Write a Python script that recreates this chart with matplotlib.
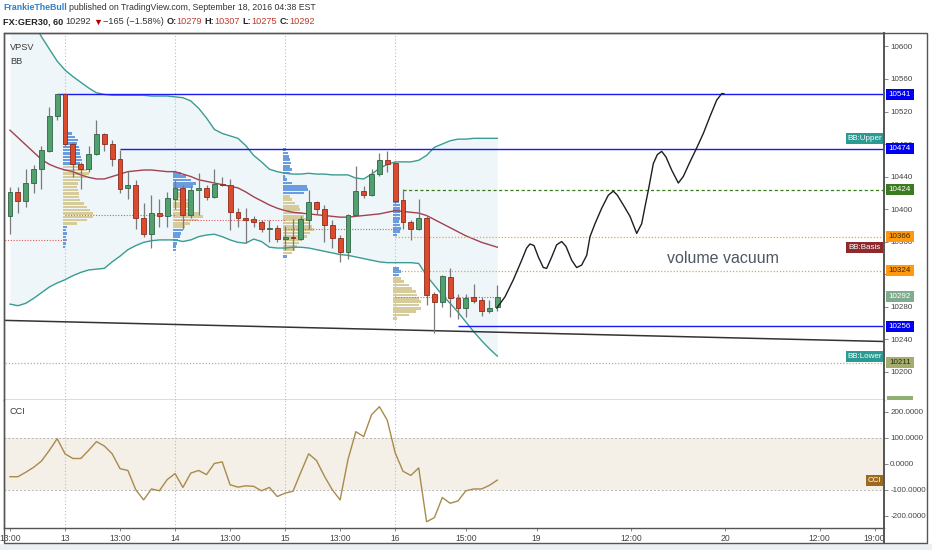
import numpy as np
import matplotlib
matplotlib.use("Agg")
import matplotlib.pyplot as plt
from matplotlib.patches import Rectangle
from matplotlib.lines import Line2D

plt.rcParams['font.family'] = ['Liberation Sans', 'DejaVu Sans']

W, H = 932, 550
BAR_PX = 7.86          # pixel spacing of one hourly bar (layout only)

# ---------------- data ----------------
# hourly candles, FX:GER30, 12 Sep 13:00 -> 16 Sep 19:00
OPEN = [10392, 10421, 10410, 10432, 10449, 10472, 10515, 10541, 10480, 10455,
        10449, 10468, 10492, 10480, 10462, 10426, 10429, 10389, 10369, 10395,
        10392, 10412, 10426, 10393, 10423, 10426, 10415, 10431, 10430, 10396,
        10389, 10388, 10384, 10376, 10377, 10363, 10365, 10363, 10387, 10409,
        10400, 10380, 10364, 10347, 10393, 10422, 10417, 10443, 10460, 10457,
        10411, 10384, 10376, 10389, 10295, 10286, 10316, 10291, 10278, 10292,
        10288, 10274, 10279]
HIGH = [10427, 10427, 10449, 10454, 10478, 10525, 10542, 10542, 10483, 10458,
        10477, 10510, 10493, 10485, 10473, 10447, 10436, 10408, 10417, 10412,
        10421, 10436, 10430, 10428, 10444, 10430, 10449, 10439, 10437, 10401,
        10401, 10391, 10386, 10386, 10380, 10379, 10388, 10391, 10423, 10410,
        10405, 10387, 10368, 10394, 10453, 10428, 10449, 10469, 10472, 10458,
        10425, 10387, 10412, 10391, 10298, 10319, 10328, 10296, 10296, 10308,
        10292, 10288, 10307]
LOW = [10369, 10395, 10403, 10420, 10425, 10470, 10509, 10477, 10440, 10425,
       10446, 10466, 10472, 10453, 10420, 10412, 10376, 10366, 10352, 10378,
       10378, 10400, 10376, 10389, 10393, 10411, 10413, 10428, 10374, 10378,
       10358, 10378, 10372, 10360, 10360, 10350, 10350, 10362, 10375, 10394,
       10360, 10352, 10335, 10339, 10391, 10413, 10416, 10441, 10445, 10407,
       10375, 10362, 10374, 10282, 10247, 10280, 10267, 10265, 10267, 10284,
       10268, 10272, 10275]
CLOSE = [10421, 10410, 10432, 10449, 10473, 10515, 10541, 10480, 10455, 10449,
         10468, 10492, 10480, 10462, 10425, 10429, 10389, 10369, 10395, 10392,
         10413, 10426, 10393, 10423, 10426, 10415, 10431, 10429, 10396, 10389,
         10387, 10384, 10375, 10377, 10363, 10365, 10364, 10388, 10409, 10400,
         10380, 10364, 10347, 10393, 10422, 10417, 10443, 10460, 10456, 10410,
         10384, 10376, 10389, 10294, 10286, 10317, 10290, 10278, 10291, 10287,
         10274, 10278, 10292]

BB_UPPER = [10690, 10670, 10650, 10630, 10612, 10597, 10582, 10571, 10563, 10556,
            10549, 10543, 10541, 10540, 10540, 10540, 10540, 10540, 10539, 10539,
            10539, 10538, 10537, 10533, 10524, 10512, 10498, 10493, 10490, 10487,
            10478, 10466, 10458, 10449, 10446, 10444, 10443, 10443, 10444, 10443,
            10443, 10442, 10442, 10442, 10438, 10437, 10443, 10450, 10455, 10458,
            10458, 10458, 10460, 10466, 10476, 10480, 10484, 10486, 10486, 10487,
            10487, 10487, 10487]
BB_BASIS = [10497, 10488, 10479, 10470, 10461, 10455, 10451, 10448, 10446, 10442,
            10439, 10437, 10437, 10440, 10443, 10446, 10447, 10448, 10448, 10447,
            10446, 10446, 10443, 10440, 10436, 10434, 10432, 10430, 10428, 10426,
            10421, 10415, 10410, 10405, 10401, 10398, 10396, 10395, 10394, 10393,
            10392, 10391, 10390, 10390, 10391, 10392, 10393, 10394, 10396, 10398,
            10397, 10396, 10395, 10392, 10387, 10382, 10377, 10372, 10367, 10363,
            10359, 10356, 10353]
BB_LOWER = [10283, 10281, 10284, 10290, 10297, 10304, 10309, 10313, 10318, 10322,
            10325, 10326, 10327, 10335, 10342, 10350, 10355, 10359, 10361, 10362,
            10362, 10362, 10360, 10362, 10366, 10368, 10369, 10366, 10362, 10359,
            10358, 10363, 10360, 10353, 10352, 10352, 10353, 10353, 10352, 10350,
            10348, 10346, 10344, 10343, 10341, 10339, 10337, 10335, 10334, 10334,
            10334, 10334, 10333, 10318, 10306, 10294, 10284, 10273, 10261, 10249,
            10238, 10228, 10219]

CCI = [-50, -50, -33, -14, 10, 51, 96, 38, 20, 20,
       51, 85, 68, 38, -19, -26, -100, -139, -97, -104,
       -61, -38, -91, -36, -26, -42, 1, 7, -81, -90,
       -85, -87, -104, -91, -126, -113, -106, -33, 38, 12,
       -48, -100, -139, 16, 123, 104, 188, 219, 167, 42,
       -29, -45, -16, -223, -207, -130, -152, -143, -104, -97,
       -97, -83, -63]

# session volume profiles (VPSV): first bar of session, top row price, row volumes
SESSION_START = [7, 21, 35, 49]
PROFILE_TOP = [10497, 10444, 10473, 10409]
PROFILE_STEP = 4.1
PROFILE_VOL = [
    [4, 9, 12, 15, 14, 16, 17, 17, 18, 19, 17,
     19, 24, 26, 23, 17, 15, 14, 15, 16, 16, 17, 21, 24, 27, 30, 30, 24, 14,
     4, 3, 4, 3, 4, 3, 2],
    [8, 13, 18, 23, 20, 13,
     12, 13, 15, 17, 18, 20, 27, 30, 25, 17, 12,
     10, 8, 7, 5, 4, 3, 3],
    [3, 5, 6, 7, 8, 7, 9, 7, 2, 4, 9, 24, 25, 21,
     7, 9, 12, 16, 17, 19, 21, 24, 27, 29, 31, 27, 24, 19, 16, 14, 12, 9,
     4],
    [6, 7, 7, 7, 7, 7, 6, 7, 8, 7, 4,
     0, 0, 0, 0, 0, 0, 0, 0, 0,
     6, 8, 6,
     8, 11, 16, 19, 23, 24, 26, 28, 26, 28, 23, 16, 4],
]
PROFILE_KIND = [
    'b' * 11 + 't' * 18 + 'b' * 7,
    'b' * 6 + 't' * 11 + 'b' * 7,
    'b' * 14 + 't' * 18 + 'b',
    'b' * 11 + 'b' * 9 + 'b' * 3 + 't' * 13,
]
# point of control of each session: from bar, to bar, price
POC_FROM = [-1, 7, 21, 35, 49]
POC_TO = [7, 21, 35, 49, 62.4]
POC_PRICE = [10362, 10393, 10387, 10375, 10292]

# drawn horizontal levels
LEVELS = [10541, 10474, 10424, 10366, 10324, 10256, 10211]
LEVEL_FROM = [6, 14, 50, 49, 49, 57, -1]
LEVEL_KIND = ['blue', 'blue', 'green', 'orange', 'orange', 'blue', 'khaki']

# drawn trend line, projected path and note
TREND_K = [-0.8, 111.2]
TREND_P = [10263, 10237]
PATH_K = [61.92, 62.98, 64.04, 65.10, 65.73, 66.16, 66.67, 67.22, 67.85, 68.28,
          68.92, 69.55, 70.19, 70.74, 71.46, 72.09, 72.73, 73.37, 73.79, 74.43,
          75.28, 76.12, 76.76, 77.27, 78.03, 78.88, 79.73, 80.37, 80.79, 81.21,
          81.85, 82.36, 82.91, 83.46, 84.18, 85.03, 85.66, 86.51, 87.36, 88.21,
          89.06, 89.91, 90.55, 90.84]
PATH_P = [10278, 10292, 10313, 10337, 10352, 10357, 10355, 10341, 10328, 10327,
          10341, 10356, 10360, 10354, 10337, 10328, 10331, 10343, 10366, 10382,
          10401, 10417, 10422, 10417, 10405, 10391, 10370, 10382, 10403, 10423,
          10456, 10467, 10471, 10464, 10448, 10432, 10440, 10458, 10475, 10493,
          10514, 10534, 10542, 10542]
NOTE_K, NOTE_P = 90.7, 10339

XTICK_K = [0, 7, 14, 21, 28, 35, 42, 49, 58, 67, 79, 91, 103, 110]
XTICK_LABELS = ['13:00', '13', '13:00', '14', '13:00', '15', '13:00', '16',
                '15:00', '19', '12:00', '20', '12:00', '19:00']
PRICE_TICKS = list(range(10200, 10601, 40))
CCI_TICKS = [200, 100, 0, -100, -200]

# ---------------- styling ----------------
UP_FILL, UP_EDGE = '#53a06f', '#2f6444'
DN_FILL, DN_EDGE = '#dc4b2e', '#8d2c1c'
WICK = '#7a7a7a'
TEAL = '#3a9c93'
MAROON = '#a3414f'
SPINE = '#555555'
TXT = '#3a3a3a'
LEVEL_STYLE = {
    'blue': dict(color='#1a1af0', lw=1.0, ls='-'),
    'green': dict(color='#3c7a1e', lw=0.9, ls=(0, (2.5, 2))),
    'orange': dict(color='#f5a030', lw=0.9, ls=(0, (1, 1.5))),
    'khaki': dict(color='#b4b478', lw=0.9, ls=(0, (1, 1.5))),
}

fig = plt.figure(figsize=(W / 100, H / 100), dpi=100)
fig.patch.set_facecolor('white')


def px_axes(x0, y0, x1, y1):
    return fig.add_axes([x0 / W, 1 - y1 / H, (x1 - x0) / W, (y1 - y0) / H])


ax = px_axes(4, 33, 884, 400)
cx = px_axes(4, 400, 884, 528)

xlim = ((4 - 10) / BAR_PX, (884 - 10) / BAR_PX)
k = np.arange(len(CLOSE))

# ---------------- price pane ----------------
ax.set_xlim(*xlim)
ax.set_ylim(10165, 10616.6)

ax.fill_between(k, BB_LOWER, BB_UPPER, color='#eef6f9', lw=0, zorder=0)

for s in SESSION_START:
    ax.axvline(s, color='#bdbdbd', lw=0.8, ls=(0, (1, 2)), zorder=0.5)
    cx.axvline(s, color='#bdbdbd', lw=0.8, ls=(0, (1, 2)), zorder=0.5)

for start, top, vols, kinds in zip(SESSION_START, PROFILE_TOP, PROFILE_VOL, PROFILE_KIND):
    rows = top - PROFILE_STEP * np.arange(len(vols))
    widths = np.array(vols) / BAR_PX
    cols = ['#6a9ce0' if c == 'b' else '#d6cb9b' for c in kinds]
    ax.barh(rows, widths, left=start - 0.3, height=PROFILE_STEP * 0.78,
            color=cols, lw=0, zorder=1)

for a, b, p in zip(POC_FROM, POC_TO, POC_PRICE):
    ax.hlines(p, a, b, color='#e05a5a', lw=0.8, ls=(0, (1, 1.5)), zorder=1.5)

ax.plot(k, BB_UPPER, color=TEAL, lw=1.0, zorder=2)
ax.plot(k, BB_LOWER, color=TEAL, lw=1.0, zorder=2)
ax.plot(k, BB_BASIS, color=MAROON, lw=1.0, zorder=2)

o, h, l, c = map(np.array, (OPEN, HIGH, LOW, CLOSE))
up = c >= o
ax.vlines(k, l, h, color=WICK, lw=0.9, zorder=3)
body_lo = np.minimum(o, c)
body_h = np.maximum(np.abs(c - o), 1.2)
ax.bar(k[up], body_h[up], bottom=body_lo[up], width=0.62, color=UP_FILL,
       edgecolor=UP_EDGE, lw=0.6, zorder=4)
ax.bar(k[~up], body_h[~up], bottom=body_lo[~up], width=0.62, color=DN_FILL,
       edgecolor=DN_EDGE, lw=0.6, zorder=4)

for p, a, kind in zip(LEVELS, LEVEL_FROM, LEVEL_KIND):
    st = LEVEL_STYLE[kind]
    ax.hlines(p, a, xlim[1], color=st['color'], lw=st['lw'], linestyles=[st['ls']], zorder=2.5)

ax.plot(TREND_K, TREND_P, color='#333333', lw=1.1, zorder=2.5)
ax.plot(PATH_K, PATH_P, color='#1e1e1e', lw=1.0, zorder=5,
        solid_joinstyle='round', solid_capstyle='round')

ax.text(NOTE_K, NOTE_P, 'volume vacuum', fontsize=11.5, color='#4d5864',
        ha='center', va='center')
ax.text(6 / 880, 1 - 14 / 367, 'VPSV', transform=ax.transAxes, fontsize=6.6,
        color=TXT, va='center')
ax.text(6 / 880, 1 - 28 / 367, 'BB', transform=ax.transAxes, fontsize=6.6,
        color=TXT, va='center')

ax.yaxis.tick_right()
ax.set_yticks(PRICE_TICKS)
# 10320 sits fully under the 10324 tag on the original, so leave it blank
ax.set_yticklabels(['' if v == 10320 else str(v) for v in PRICE_TICKS])
ax.tick_params(axis='y', direction='out', length=3, width=0.7, color='#888888',
               labelsize=5.8, labelcolor='#444444', pad=1.5)
ax.set_xticks([])

# ---------------- CCI pane ----------------
cx.set_xlim(*xlim)
cx.set_ylim(-247, 244.7)
cx.axhspan(-100, 100, color='#f4efe7', lw=0, zorder=0)
cx.axhline(100, color='#b5b5b5', lw=0.7, ls=(0, (2, 2)), zorder=0.6)
cx.axhline(-100, color='#b5b5b5', lw=0.7, ls=(0, (2, 2)), zorder=0.6)
cx.plot(k, CCI, color='#a88b4c', lw=1.0, zorder=3)
cx.text(6 / 880, 1 - 12 / 128, 'CCI', transform=cx.transAxes, fontsize=6.6,
        color=TXT, va='center')

cx.yaxis.tick_right()
cx.set_yticks(CCI_TICKS)
cx.set_yticklabels([f'{v:.4f}' for v in CCI_TICKS])
cx.tick_params(axis='y', direction='out', length=3, width=0.7, color='#888888',
               labelsize=5.8, labelcolor='#444444', pad=1.5)
cx.set_xticks(XTICK_K)
cx.set_xticklabels(XTICK_LABELS)
cx.tick_params(axis='x', direction='out', length=2.5, width=0.7, color='#888888',
               labelsize=6.2, labelcolor='#444444', pad=2)

for a in (ax, cx):
    for sp in a.spines.values():
        sp.set_color(SPINE)
        sp.set_linewidth(1.0)
    a.spines['right'].set_linewidth(1.4)
cx.spines['top'].set_visible(False)

# outer frame and time-axis box
fig.add_artist(Rectangle((4 / W, 1 - 543 / H), 923 / W, 510 / H, transform=fig.transFigure,
                         fill=False, edgecolor=SPINE, lw=1.0, zorder=4))
fig.add_artist(Line2D([884 / W, 884 / W], [1 - 528 / H, 1 - 543 / H], transform=fig.transFigure,
                      color=SPINE, lw=1.4, zorder=4))
fig.add_artist(Rectangle((0, 0), 1, 6 / H, transform=fig.transFigure,
                         facecolor='#edf0f3', edgecolor='none', zorder=0.5))


# ---------------- axis tags ----------------
def tag(axis, value, text, bg, fg, x0, x1, h=11, size=5.8):
    yd = axis.transData.transform((0, value))[1]
    fig.add_artist(Rectangle((x0 / W, (yd - h / 2) / H), (x1 - x0) / W, h / H,
                             transform=fig.transFigure, facecolor=bg, edgecolor='none', zorder=6))
    fig.text((x0 + x1) / 2 / W, yd / H, text, color=fg, fontsize=size,
             ha='center', va='center', zorder=7)


VAL_X = (886, 914)
IN_X = (846, 883)
tag(ax, 10541, '10541', '#0000f5', 'white', *VAL_X)
tag(ax, 10474, '10474', '#0000f5', 'white', *VAL_X)
tag(ax, 10424, '10424', '#3b7a1e', 'white', *VAL_X)
tag(ax, 10366, '10366', '#ff9a10', '#3a2600', *VAL_X)
tag(ax, 10324, '10324', '#ff9a10', '#3a2600', *VAL_X)
tag(ax, CLOSE[-1], str(CLOSE[-1]), '#7fab8e', 'white', *VAL_X)
tag(ax, 10256, '10256', '#0000f5', 'white', *VAL_X)
tag(ax, 10211, '10211', '#a5ad6c', '#2a2a10', *VAL_X)
tag(ax, BB_UPPER[-1], 'BB:Upper', '#2b9a93', 'white', *IN_X)
tag(ax, BB_BASIS[-1], 'BB:Basis', '#8e2a2e', 'white', *IN_X)
tag(ax, BB_LOWER[-1], 'BB:Lower', '#2b9a93', 'white', *IN_X)
tag(cx, CCI[-1], 'CCI', '#9b6a1e', 'white', 866, 883)
fig.add_artist(Rectangle((887 / W, 1 - 400 / H), 26 / W, 4 / H, transform=fig.transFigure,
                         facecolor='#8fb070', edgecolor='none', zorder=6))

# ---------------- header ----------------
renderer = fig.canvas.get_renderer()
HEAD_SIZE = 6.6
SPACE_PX = 0.278 * HEAD_SIZE * 100 / 72


def chain(x_px, y_px, parts, size=HEAD_SIZE):
    x = x_px
    for text, color, weight, gap in parts:
        x += gap * SPACE_PX
        t = fig.text(x / W, 1 - y_px / H, text, color=color, fontweight=weight,
                     fontsize=size, ha='left', va='center')
        x += t.get_window_extent(renderer=renderer).width


RED = '#c0392b'
chain(3, 8, [('FrankieTheBull', '#2f7fc6', 'bold', 0),
             ('published on TradingView.com, September 18, 2016 04:38 EST', '#333333', 'normal', 1)],
      size=6.3)
chain(3, 22, [('FX:GER30, 60', '#222222', 'bold', 0),
              ('10292', '#333333', 'normal', 1),
              ('\u25bc', '#b00000', 'normal', 0.6),
              ('\u2212165 (\u22121.58%)', '#333333', 'normal', 0.4),
              ('O:', '#222222', 'bold', 1), ('10279', RED, 'normal', 0),
              ('H:', '#222222', 'bold', 1), ('10307', RED, 'normal', 0),
              ('L:', '#222222', 'bold', 1), ('10275', RED, 'normal', 0),
              ('C:', '#222222', 'bold', 1), ('10292', RED, 'normal', 0)])

fig.savefig('out.png', dpi=100)
